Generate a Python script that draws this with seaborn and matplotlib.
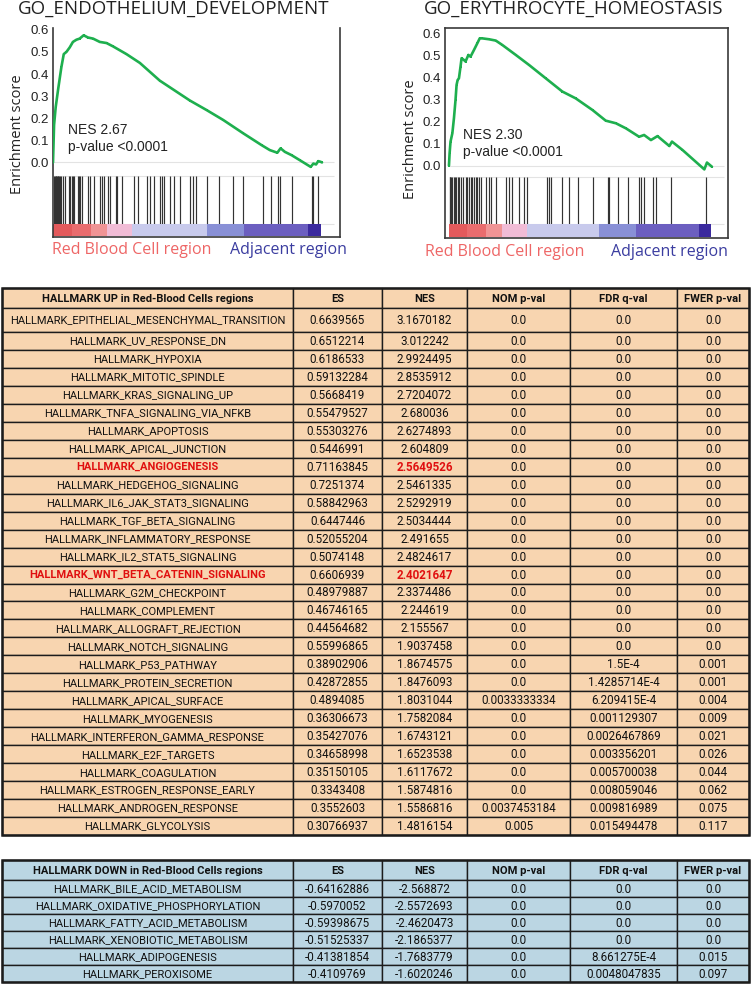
import matplotlib

matplotlib.use("Agg")
import matplotlib.pyplot as plt
import numpy as np
import seaborn as sns
from matplotlib.patches import Rectangle

# ---------------- enrichment plots (x = position in ranked gene list, %) ----------------
ENDO_TITLE = "GO_ENDOTHELIUM_DEVELOPMENT"
ENDO_RANK = [0, 0.4, 1.0, 1.9, 2.5, 3.1, 4.0, 5.0, 6.2, 7.4, 8.7, 9.9, 11.4, 13.0, 14.9,
             17.4, 19.9, 22.3, 27.3, 32.3, 39.7, 50.9, 57.1, 63.3, 70.7, 77.6, 80.6, 83.4,
             84.6, 86.2, 88.7, 91.8, 95.8, 96.8, 97.8, 98.6, 99.5, 100]
ENDO_ES = [0.0, 0.17, 0.25, 0.33, 0.38, 0.43, 0.49, 0.50, 0.52, 0.545, 0.555, 0.56, 0.575,
           0.565, 0.56, 0.545, 0.54, 0.525, 0.49, 0.45, 0.37, 0.28, 0.237, 0.192, 0.132,
           0.078, 0.056, 0.044, 0.064, 0.048, 0.033, 0.010, -0.020, -0.005, -0.009, 0.006,
           0.003, 0.0]
ENDO_HITS = [0.4, 0.7, 1.0, 1.2, 1.5, 1.8, 2.0, 2.2, 2.5, 3.1, 3.7, 4.4, 6.0, 6.5, 7.0, 7.4,
             7.7, 9.3, 9.7, 10.2, 10.8, 13.0, 13.7, 15.3, 17.6, 18.2, 18.9, 20.5, 21.1, 23.3,
             23.8, 25.5, 30.1, 31.6, 35.1, 36.0, 37.5, 39.7, 40.7, 41.3, 43.4, 44.9, 47.2,
             50.9, 52.1, 53.0, 57.1, 61.8, 67.0, 70.7, 77.9, 81.0, 83.7, 84.4, 88.9, 96.2,
             96.8, 98.6]
ENDO_NES = "NES 2.67"

ERY_TITLE = "GO_ERYTHROCYTE_HOMEOSTASIS"
ERY_RANK = [0, 0.25, 0.6, 1.3, 1.9, 2.5, 2.9, 3.3, 3.8, 4.4, 4.8, 5.7, 6.3, 7.4, 8.2, 9.5,
            10.8, 11.7, 12.7, 15.2, 17.8, 20.3, 25.4, 30.5, 36.8, 43.1, 48.2, 54.6, 59.6,
            63.5, 67.3, 72.3, 74.2, 76.8, 79.3, 83.8, 84.8, 88.8, 97.1, 98.1, 100]
ERY_ES = [0.0, 0.056, 0.109, 0.147, 0.215, 0.298, 0.366, 0.388, 0.396, 0.449, 0.487, 0.479,
          0.472, 0.502, 0.494, 0.524, 0.555, 0.577, 0.577, 0.573, 0.567, 0.547, 0.502,
          0.456, 0.396, 0.336, 0.305, 0.252, 0.204, 0.192, 0.169, 0.131, 0.139, 0.116,
          0.134, 0.089, 0.109, 0.071, -0.017, 0.014, -0.005]
ERY_HITS = [0.25, 0.5, 0.8, 1.3, 1.8, 2.3, 2.8, 3.3, 3.8, 4.4, 5.3, 6.3, 7.0, 7.6, 8.2, 8.9,
            9.5, 10.2, 10.8, 11.4, 12.1, 14.0, 15.2, 15.9, 17.8, 21.6, 22.8, 24.1, 26.6,
            28.6, 29.8, 37.4, 38.1, 38.7, 43.1, 45.7, 48.9, 54.6, 60.3, 60.9, 64.1, 67.9,
            72.3, 73.2, 74.2, 77.4, 78.7, 84.4, 97.7]
ERY_NES = "NES 2.30"

PVALUE_TEXT = "p-value <0.0001"
ES_TICKS = [0.0, 0.1, 0.2, 0.3, 0.4, 0.5, 0.6]

# ranked-list colour bar: segment edges (% of list) and colours
BAR_EDGES = [0, 7, 14, 20, 29.5, 57.1, 71, 94.9, 99.6]
BAR_COLORS = ["#E35A5C", "#E96C6E", "#F09495", "#F1BCD6", "#C8CAEC",
              "#8990D6", "#6C5FC0", "#3B2A9E"]

# ---------------- GSEA hallmark tables ----------------
TABLE_COLUMNS = ["ES", "NES", "NOM p-val", "FDR q-val", "FWER p-val"]

UP_HEADER = "HALLMARK UP in Red-Blood Cells regions"
UP_NAMES = [
    "HALLMARK_EPITHELIAL_MESENCHYMAL_TRANSITION", "HALLMARK_UV_RESPONSE_DN",
    "HALLMARK_HYPOXIA", "HALLMARK_MITOTIC_SPINDLE", "HALLMARK_KRAS_SIGNALING_UP",
    "HALLMARK_TNFA_SIGNALING_VIA_NFKB", "HALLMARK_APOPTOSIS", "HALLMARK_APICAL_JUNCTION",
    "HALLMARK_ANGIOGENESIS", "HALLMARK_HEDGEHOG_SIGNALING", "HALLMARK_IL6_JAK_STAT3_SIGNALING",
    "HALLMARK_TGF_BETA_SIGNALING", "HALLMARK_INFLAMMATORY_RESPONSE",
    "HALLMARK_IL2_STAT5_SIGNALING", "HALLMARK_WNT_BETA_CATENIN_SIGNALING",
    "HALLMARK_G2M_CHECKPOINT", "HALLMARK_COMPLEMENT", "HALLMARK_ALLOGRAFT_REJECTION",
    "HALLMARK_NOTCH_SIGNALING", "HALLMARK_P53_PATHWAY", "HALLMARK_PROTEIN_SECRETION",
    "HALLMARK_APICAL_SURFACE", "HALLMARK_MYOGENESIS", "HALLMARK_INTERFERON_GAMMA_RESPONSE",
    "HALLMARK_E2F_TARGETS", "HALLMARK_COAGULATION", "HALLMARK_ESTROGEN_RESPONSE_EARLY",
    "HALLMARK_ANDROGEN_RESPONSE", "HALLMARK_GLYCOLYSIS",
]
UP_ES = ["0.6639565", "0.6512214", "0.6186533", "0.59132284", "0.5668419", "0.55479527",
         "0.55303276", "0.5446991", "0.71163845", "0.7251374", "0.58842963", "0.6447446",
         "0.52055204", "0.5074148", "0.6606939", "0.48979887", "0.46746165", "0.44564682",
         "0.55996865", "0.38902906", "0.42872855", "0.4894085", "0.36306673", "0.35427076",
         "0.34658998", "0.35150105", "0.3343408", "0.3552603", "0.30766937"]
UP_NES = ["3.1670182", "3.012242", "2.9924495", "2.8535912", "2.7204072", "2.680036",
          "2.6274893", "2.604809", "2.5649526", "2.5461335", "2.5292919", "2.5034444",
          "2.491655", "2.4824617", "2.4021647", "2.3374486", "2.244619", "2.155567",
          "1.9037458", "1.8674575", "1.8476093", "1.8031044", "1.7582084", "1.6743121",
          "1.6523538", "1.6117672", "1.5874816", "1.5586816", "1.4816154"]
UP_NOM = ["0.0"] * 21 + ["0.0033333334", "0.0", "0.0", "0.0", "0.0", "0.0",
                         "0.0037453184", "0.005"]
UP_FDR = ["0.0"] * 19 + ["1.5E-4", "1.4285714E-4", "6.209415E-4", "0.001129307",
                         "0.0026467869", "0.003356201", "0.005700038", "0.008059046",
                         "0.009816989", "0.015494478"]
UP_FWER = ["0.0"] * 19 + ["0.001", "0.001", "0.004", "0.009", "0.021", "0.026", "0.044",
                          "0.062", "0.075", "0.117"]
UP_HIGHLIGHT = ["HALLMARK_ANGIOGENESIS", "HALLMARK_WNT_BETA_CATENIN_SIGNALING"]

DOWN_HEADER = "HALLMARK DOWN in Red-Blood Cells regions"
DOWN_NAMES = ["HALLMARK_BILE_ACID_METABOLISM", "HALLMARK_OXIDATIVE_PHOSPHORYLATION",
              "HALLMARK_FATTY_ACID_METABOLISM", "HALLMARK_XENOBIOTIC_METABOLISM",
              "HALLMARK_ADIPOGENESIS", "HALLMARK_PEROXISOME"]
DOWN_ES = ["-0.64162886", "-0.5970052", "-0.59398675", "-0.51525337", "-0.41381854",
           "-0.4109769"]
DOWN_NES = ["-2.568872", "-2.5572693", "-2.4620473", "-2.1865377", "-1.7683779",
            "-1.6020246"]
DOWN_NOM = ["0.0"] * 6
DOWN_FDR = ["0.0", "0.0", "0.0", "0.0", "8.661275E-4", "0.0048047835"]
DOWN_FWER = ["0.0", "0.0", "0.0", "0.0", "0.015", "0.097"]

W, H = 752, 988
GREEN = "#1EAF4E"
RBC_COLOR = "#EE6666"
ADJ_COLOR = "#3B3DA0"
HIGHLIGHT_RED = "#E01010"
TABLE_FONT = ["Roboto", "Liberation Sans", "DejaVu Sans"]
PLOT_FONT = ["Open Sans", "DejaVu Sans"]
TICK_FONT = ["Liberation Sans", "DejaVu Sans"]


def px_axes(fig, left, top, right, bottom):
    return fig.add_axes([left / W, 1 - bottom / H, (right - left) / W, (bottom - top) / H])


def enrichment_plot(fig, box, xlim, ylim, hit_band, bar_band, rank, es, hits, nes,
                    text_pos, draw_top):
    ax = px_axes(fig, *box)
    ax.set_xlim(*xlim)
    ax.set_ylim(*ylim)

    # light separators: zero line and hit band limits
    for level in (0.0, hit_band[1], hit_band[0]):
        ax.hlines(level, 0, 104.5, color="#E3E3E3", lw=0.8, zorder=1)

    sns.lineplot(x=rank, y=es, ax=ax, color=GREEN, lw=1.9, marker="s", markersize=2,
                 markeredgewidth=0, zorder=3)
    ax.vlines(hits, hit_band[0], hit_band[1], color="#333333", lw=0.85, zorder=2)

    edges = np.asarray(BAR_EDGES)
    ax.barh(y=np.mean(bar_band), width=np.diff(edges), left=edges[:-1],
            height=bar_band[1] - bar_band[0], color=BAR_COLORS, linewidth=0, zorder=2)

    ax.set_yticks(ES_TICKS)
    ax.set_yticklabels([f"{t:.1f}" for t in ES_TICKS], fontfamily=TICK_FONT, fontsize=9.5,
                       color="#222222")
    ax.set_xticks([])
    ax.tick_params(axis="y", length=0, pad=3)
    ax.set_xlabel("")
    ax.set_ylabel("")
    for spine in ax.spines.values():
        spine.set_color("#3a3a3a")
        spine.set_linewidth(1.2)
    ax.spines["top"].set_visible(draw_top)

    ax.text(text_pos[0], text_pos[1], nes, transform=ax.transAxes, fontsize=10,
            family=TICK_FONT, color="#222222", va="center")
    ax.text(text_pos[0], text_pos[2], PVALUE_TEXT, transform=ax.transAxes, fontsize=10,
            family=TICK_FONT, color="#222222", va="center")
    return ax


def draw_table(ax, header, columns, names, es, nes, nom, fdr, fwer, col_edges, row_edges,
               face, highlight=()):
    n_rows = len(row_edges) - 1
    cells = [[header] + list(columns)] + [list(r) for r in zip(names, es, nes, nom, fdr, fwer)]
    for i in range(n_rows):
        y0, y1 = row_edges[i], row_edges[i + 1]
        red = i > 0 and cells[i][0] in highlight
        for j in range(len(col_edges) - 1):
            x0, x1 = col_edges[j], col_edges[j + 1]
            ax.add_patch(Rectangle((x0, y0), x1 - x0, y1 - y0, facecolor=face,
                                   edgecolor="#1c1c1c", lw=1.0))
            bold = i == 0 or (red and j in (0, 2))
            color = HIGHLIGHT_RED if red and j in (0, 2) else "#111111"
            size = 8.0 if (i == 0 or j == 0) else 8.4
            ax.text((x0 + x1) / 2, (y0 + y1) / 2 + 0.5, cells[i][j], ha="center",
                    va="center", fontsize=size, family=TABLE_FONT, color=color,
                    fontweight="bold" if bold else "normal")
    ax.add_patch(Rectangle((col_edges[0], row_edges[0]), col_edges[-1] - col_edges[0],
                           row_edges[-1] - row_edges[0], fill=False, edgecolor="#1c1c1c",
                           lw=1.8))


def main():
    sns.set_theme(style="white")
    fig = plt.figure(figsize=(W / 100, H / 100), dpi=100)
    fig.patch.set_facecolor("white")

    # tables drawn in a full-figure pixel frame
    tab = fig.add_axes([0, 0, 1, 1])
    tab.set_xlim(0, W)
    tab.set_ylim(H, 0)
    tab.axis("off")
    col_edges = [2, 293, 382, 467, 570, 677, 749]
    up_rows = np.concatenate([[288, 308, 332], np.linspace(332, 835, len(UP_NAMES))[1:]])
    draw_table(tab, UP_HEADER, TABLE_COLUMNS, UP_NAMES, UP_ES, UP_NES, UP_NOM, UP_FDR,
               UP_FWER, col_edges, up_rows, "#F8D5B0", UP_HIGHLIGHT)
    down_rows = np.concatenate([[860], np.linspace(880, 982, len(DOWN_NAMES) + 1)])
    draw_table(tab, DOWN_HEADER, TABLE_COLUMNS, DOWN_NAMES, DOWN_ES, DOWN_NES, DOWN_NOM,
               DOWN_FDR, DOWN_FWER, col_edges, down_rows, "#BBD6E3")

    enrichment_plot(fig, (53, 28, 340, 237), (0, 106.7), (-0.337, 0.608),
                    (-0.280, -0.061), (-0.334, -0.280), ENDO_RANK, ENDO_ES, ENDO_HITS,
                    ENDO_NES, (0.052, 0.512, 0.431), draw_top=False)
    enrichment_plot(fig, (445, 28, 728, 238), (-1.5, 106.1), (-0.328, 0.624),
                    (-0.266, -0.050), (-0.322, -0.266), ERY_RANK, ERY_ES, ERY_HITS,
                    ERY_NES, (0.065, 0.49, 0.411), draw_top=True)

    # titles, axis labels and region labels
    for x, y, title in ((174, 9, ENDO_TITLE), (574, 9, ERY_TITLE)):
        fig.text(x / W, 1 - y / H, title, ha="center", va="center", fontsize=13.5,
                 family=PLOT_FONT, color="#222222")
    for x, y in ((18, 134), (411, 139)):
        fig.text(x / W, 1 - y / H, "Enrichment score", rotation=90, ha="center",
                 va="center", fontsize=10.5, family=PLOT_FONT, color="#222222")
    for left, right, y in ((52, 347, 250), (425, 728, 252)):
        fig.text(left / W, 1 - y / H, "Red Blood Cell region", ha="left", va="center",
                 fontsize=11.5, family=PLOT_FONT, color=RBC_COLOR)
        fig.text(right / W, 1 - y / H, "Adjacent region", ha="right", va="center",
                 fontsize=11.5, family=PLOT_FONT, color=ADJ_COLOR)

    fig.savefig("out.png", dpi=100)
    plt.close(fig)


if __name__ == "__main__":
    main()
